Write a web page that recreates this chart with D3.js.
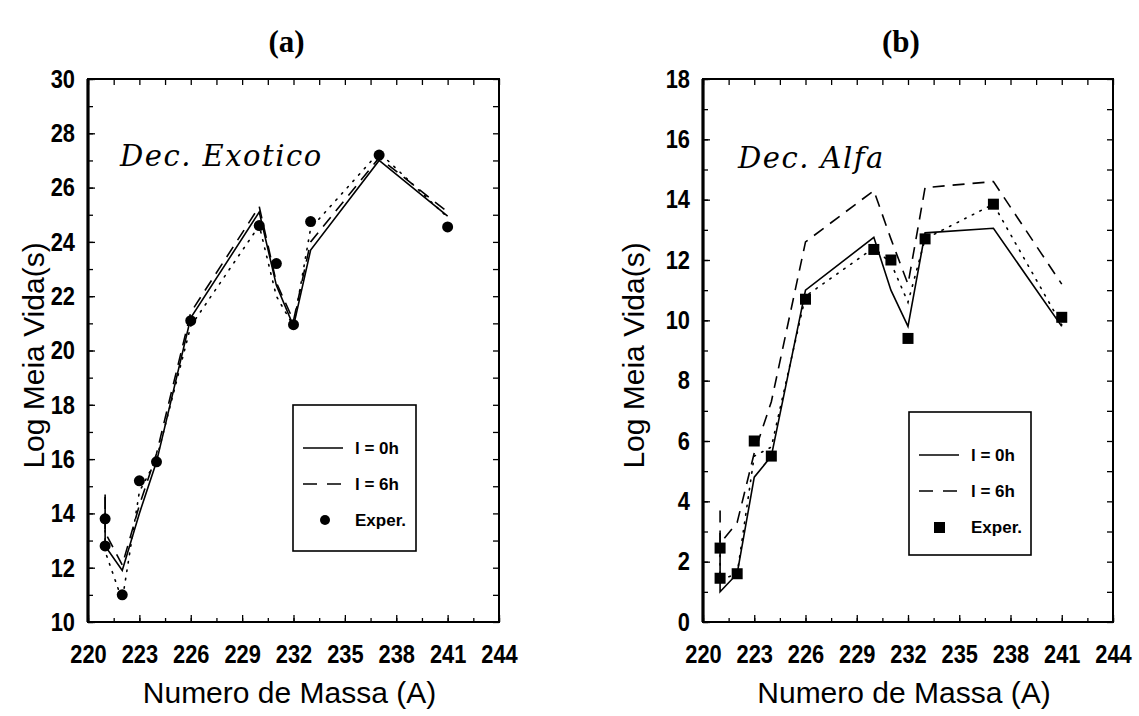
<!DOCTYPE html>
<html>
<head>
<meta charset="utf-8">
<script src="https://cdn.jsdelivr.net/npm/d3@7"></script>
<style>
  body { margin: 0; background: #fff; }
  svg { display: block; }
  .tick text { font-family: "Liberation Sans", "Arial", sans-serif; font-weight: bold; }
</style>
</head>
<body>
<script>
// mass numbers shared by every series (two isotopes at A = 221)
const masses = [221, 221, 222, 223, 224, 226, 230, 231, 232, 233, 237, 241];
const xTicks = [220, 223, 226, 229, 232, 235, 238, 241, 244];

// panel (a) : exotic decay
const expA   = [13.8, 12.8, 11.0, 15.2, 15.9, 21.1, 24.6, 23.2, 20.95, 24.75, 27.2, 24.55];
const l0hA   = [14.7, 12.8, 11.9, 14.0, 15.9, 21.2, 25.1, 22.4, 20.9, 23.7, 27.0, 24.95];
const l6hA   = [14.6, 13.3, 12.1, 14.3, 16.2, 21.4, 25.3, 22.5, 21.1, 24.0, 27.1, 25.1];
const dotA   = [14.0, 12.6, 10.8, 14.8, 16.0, 20.9, 24.6, 22.0, 20.9, 24.5, 27.3, 24.9];
const yTicksA = [10, 12, 14, 16, 18, 20, 22, 24, 26, 28, 30];

// panel (b) : alpha decay
const expB   = [2.45, 1.45, 1.6, 6.0, 5.5, 10.7, 12.35, 12.0, 9.4, 12.7, 13.85, 10.1];
const l0hB   = [2.95, 1.0, 1.6, 4.8, 5.5, 11.0, 12.75, 11.0, 9.8, 12.9, 13.05, 9.8];
const l6hB   = [3.7, 2.6, 3.3, 5.6, 7.3, 12.6, 14.3, 12.7, 11.2, 14.4, 14.6, 11.2];
const dotB   = [2.5, 1.4, 1.6, 5.5, 5.8, 10.8, 12.4, 11.9, 10.6, 12.7, 13.85, 9.85];
const yTicksB = [0, 2, 4, 6, 8, 10, 12, 14, 16, 18];

const NARROW = 0.84; // horizontal squeeze for the condensed tick labels

const svg = d3.select('body').append('svg')
  .attr('width', 1139)
  .attr('height', 716);

drawPanel({
  title: '(a)', note: 'Dec. Exotico', marker: 'circle',
  left: 88, right: 499, top: 79, bottom: 622,
  yDomain: [10, 30], yTicks: yTicksA,
  exp: expA, l0h: l0hA, l6h: l6hA, dot: dotA,
  noteX: 120, noteY: 166, legend: {x: 293, y: 405, w: 123, h: 146},
  yLabelX: 33
});

drawPanel({
  title: '(b)', note: 'Dec. Alfa', marker: 'square',
  left: 703, right: 1113, top: 79, bottom: 622,
  yDomain: [0, 18], yTicks: yTicksB,
  exp: expB, l0h: l0hB, l6h: l6hB, dot: dotB,
  noteX: 738, noteY: 168, legend: {x: 909, y: 412, w: 122, h: 143},
  yLabelX: 633
});

function drawPanel(p) {
  const x = d3.scaleLinear().domain([220, 244]).range([p.left, p.right]);
  const y = d3.scaleLinear().domain(p.yDomain).range([p.bottom, p.top]);
  const g = svg.append('g');
  const minorX = d3.range(220, 244.01, 1.5);
  const minorY = d3.range(p.yDomain[0], p.yDomain[1] + 0.01, 1);

  // ticks, all pointing inwards
  g.append('g').attr('transform', `translate(0,${p.bottom})`)
    .call(d3.axisBottom(x).tickValues(xTicks).tickSize(-7).tickSizeOuter(0).tickPadding(23))
    .call(a => a.selectAll('text').style('font-size', '26px')
      .attr('transform', `scale(${NARROW},1)`));
  g.append('g').attr('transform', `translate(0,${p.bottom})`)
    .call(d3.axisBottom(x).tickValues(minorX).tickSize(-4).tickSizeOuter(0).tickFormat(''));
  g.append('g').attr('transform', `translate(0,${p.top})`)
    .call(d3.axisTop(x).tickValues(minorX).tickSize(-6).tickSizeOuter(0).tickFormat(''));
  g.append('g').attr('transform', `translate(${p.left},0)`)
    .call(d3.axisLeft(y).tickValues(p.yTicks).tickSize(-7).tickSizeOuter(0).tickPadding(13 / NARROW))
    .call(a => a.selectAll('text').style('font-size', '26px')
      .attr('transform', `scale(${NARROW},1)`));
  g.append('g').attr('transform', `translate(${p.left},0)`)
    .call(d3.axisLeft(y).tickValues(minorY).tickSize(-5).tickSizeOuter(0).tickFormat(''));
  g.append('g').attr('transform', `translate(${p.right},0)`)
    .call(d3.axisRight(y).tickValues(minorY).tickSize(-6).tickSizeOuter(0).tickFormat(''));
  g.selectAll('.domain').remove();
  g.selectAll('.tick line').attr('stroke', '#000').attr('stroke-width', 1.3);

  // frame
  g.append('rect')
    .attr('x', p.left).attr('y', p.top)
    .attr('width', p.right - p.left).attr('height', p.bottom - p.top)
    .attr('fill', 'none').attr('stroke', '#000').attr('stroke-width', 2);
  g.append('line')
    .attr('x1', p.left).attr('x2', p.left).attr('y1', p.top).attr('y2', p.bottom)
    .attr('stroke', '#000').attr('stroke-width', 3.2);

  const line = d3.line().x((d, i) => x(masses[i])).y(d => y(d));
  g.append('path').datum(p.dot).attr('d', line)
    .attr('fill', 'none').attr('stroke', '#000').attr('stroke-width', 1.6)
    .attr('stroke-dasharray', '1.5,7').attr('stroke-linecap', 'round');
  g.append('path').datum(p.l6h).attr('d', line)
    .attr('fill', 'none').attr('stroke', '#000').attr('stroke-width', 1.6)
    .attr('stroke-dasharray', '12,8');
  g.append('path').datum(p.l0h).attr('d', line)
    .attr('fill', 'none').attr('stroke', '#000').attr('stroke-width', 1.6);

  if (p.marker === 'circle') {
    g.selectAll('circle.exp').data(p.exp).join('circle')
      .attr('class', 'exp')
      .attr('cx', (d, i) => x(masses[i])).attr('cy', d => y(d))
      .attr('r', 5.5).attr('fill', '#000');
  } else {
    g.selectAll('rect.exp').data(p.exp).join('rect')
      .attr('class', 'exp')
      .attr('x', (d, i) => x(masses[i]) - 5.5).attr('y', d => y(d) - 5.5)
      .attr('width', 11).attr('height', 11).attr('fill', '#000');
  }

  // legend
  const L = p.legend;
  const lg = g.append('g').attr('transform', `translate(${L.x},${L.y})`);
  lg.append('rect').attr('width', L.w).attr('height', L.h)
    .attr('fill', '#fff').attr('stroke', '#000').attr('stroke-width', 1.6);
  const rows = [
    {label: 'l = 0h', dash: null, y: 43},
    {label: 'l = 6h', dash: '14,10', y: 79},
    {label: 'Exper.', dash: 'marker', y: 115}
  ];
  rows.forEach(r => {
    if (r.dash === 'marker') {
      if (p.marker === 'circle') {
        lg.append('circle').attr('cx', 32).attr('cy', r.y).attr('r', 5).attr('fill', '#000');
      } else {
        lg.append('rect').attr('x', 25).attr('y', r.y - 5).attr('width', 11).attr('height', 11).attr('fill', '#000');
      }
    } else {
      lg.append('line').attr('x1', 10).attr('x2', 50).attr('y1', r.y).attr('y2', r.y)
        .attr('stroke', '#000').attr('stroke-width', 1.6)
        .attr('stroke-dasharray', r.dash);
    }
    lg.append('text').attr('x', 62).attr('y', r.y).attr('dy', '0.36em')
      .style('font-family', '"Liberation Sans", sans-serif')
      .style('font-weight', 'bold').style('font-size', '17px')
      .text(r.label);
  });

  // annotation in script-like italic
  g.append('text').attr('x', p.noteX).attr('y', p.noteY)
    .style('font-family', '"DejaVu Serif", serif').style('font-style', 'italic')
    .style('font-size', '29px').style('letter-spacing', '1.5px')
    .text(p.note);

  // titles and axis labels
  const cx = (p.left + p.right) / 2;
  svg.append('text').attr('x', cx - 7).attr('y', 52).attr('text-anchor', 'middle')
    .style('font-family', '"Liberation Serif", serif').style('font-weight', 'bold')
    .style('font-size', '31px').text(p.title);
  svg.append('text').attr('x', cx - 4).attr('y', 703).attr('text-anchor', 'middle')
    .style('font-family', '"Liberation Sans", sans-serif').style('font-size', '30px')
    .text('Numero de Massa (A)');
  svg.append('text')
    .attr('transform', `translate(${p.yLabelX},${(p.top + p.bottom) / 2 + 5}) rotate(-90)`)
    .attr('text-anchor', 'middle').attr('dy', '0.35em')
    .style('font-family', '"Liberation Sans", sans-serif').style('font-size', '30px')
    .text('Log Meia Vida(s)');
}
</script>
</body>
</html>
